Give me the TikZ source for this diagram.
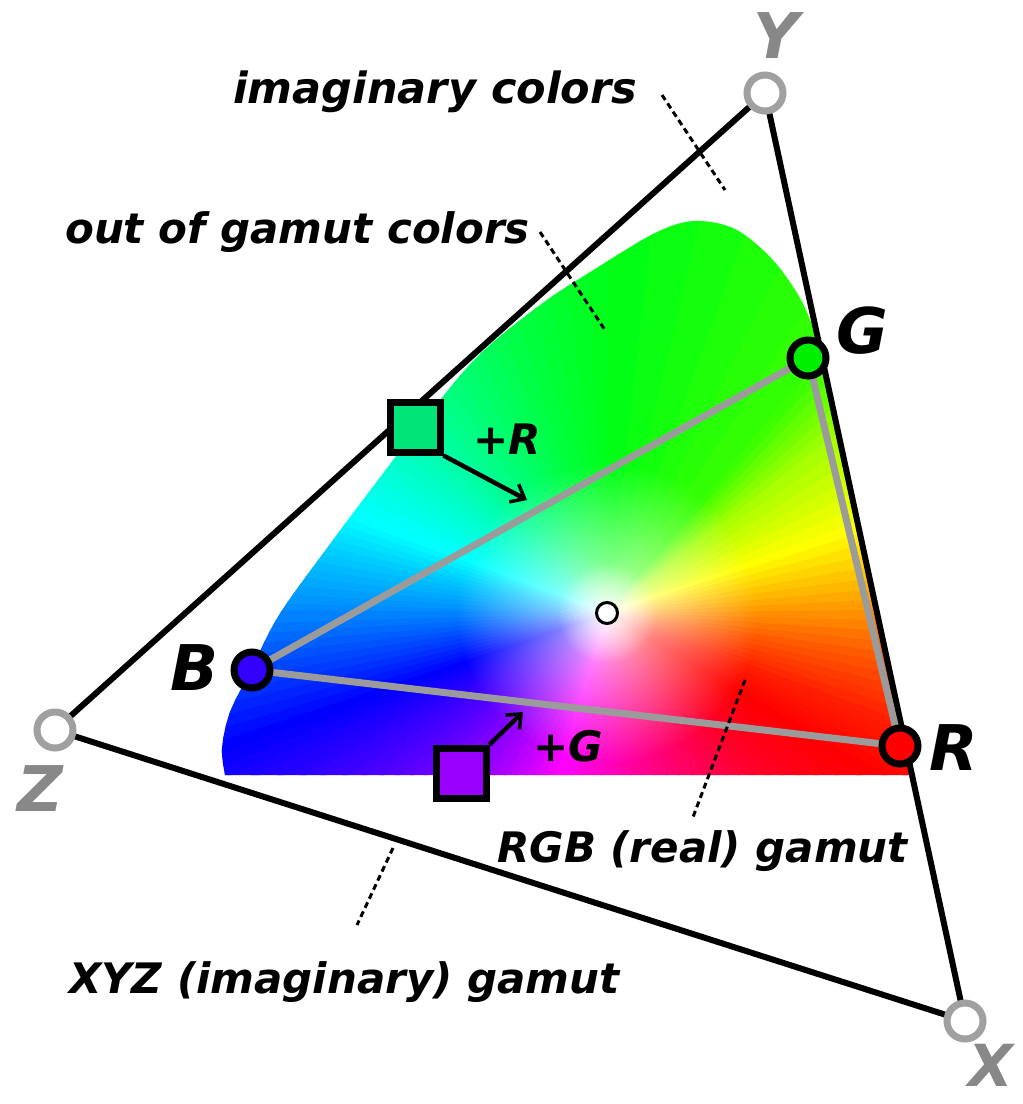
\documentclass[tikz,border=0pt]{standalone}
\usepackage{fontspec}
\setmainfont{DejaVu Sans}
\usetikzlibrary{arrows.meta,fadings}
\definecolor{vgray}{RGB}{160,160,160}
\definecolor{tgray}{RGB}{136,136,136}
\definecolor{lgray}{RGB}{155,155,155}
\definecolor{gfill}{RGB}{0,238,0}
\definecolor{bfill}{RGB}{51,0,255}
\definecolor{rfill}{RGB}{255,0,0}
\definecolor{sqgreen}{RGB}{0,228,120}
\definecolor{sqpurple}{RGB}{153,0,255}
\definecolor{k1}{RGB}{0,140,255}
\definecolor{k2}{RGB}{0,195,255}
\definecolor{k3}{RGB}{0,255,255}
\definecolor{k4}{RGB}{0,255,200}
\definecolor{k5}{RGB}{0,255,130}
\definecolor{k6}{RGB}{0,255,70}
\definecolor{k7}{RGB}{0,255,20}
\definecolor{k8}{RGB}{60,255,0}
\definecolor{k9}{RGB}{170,255,0}
\definecolor{k10}{RGB}{255,255,0}
\definecolor{k11}{RGB}{255,170,0}
\definecolor{k12}{RGB}{255,90,0}
\definecolor{k13}{RGB}{255,30,0}
\definecolor{k14}{RGB}{255,0,0}
\definecolor{k15}{RGB}{255,0,40}
\definecolor{k16}{RGB}{255,0,100}
\definecolor{k17}{RGB}{255,0,180}
\definecolor{k18}{RGB}{255,0,255}
\definecolor{k19}{RGB}{170,0,255}
\definecolor{k20}{RGB}{100,0,255}
\definecolor{k21}{RGB}{50,0,255}
\definecolor{k22}{RGB}{0,0,255}
\definecolor{k23}{RGB}{0,70,255}
\tikzfading[name=wfade, inner color=transparent!0, outer color=transparent!100]
\begin{document}
\begin{tikzpicture}[x=1pt,y=-1pt,
  lbl/.style={font=\fontsize{42}{48}\selectfont\bfseries\itshape, inner sep=0},
  big/.style={font=\fontsize{63}{68}\selectfont\bfseries\itshape, inner sep=0},
  vtx/.style={circle, draw=vgray, fill=white, line width=7pt, minimum size=36pt, inner sep=0},
  prim/.style={circle, draw=black, line width=7pt, minimum size=36pt, inner sep=0},
  sq/.style={rectangle, draw=black, line width=7pt, minimum size=50pt, inner sep=0},
  tri/.style={line width=6pt, black},
  gline/.style={line width=7pt, lgray},
  leader/.style={line width=3pt, dash pattern=on 6pt off 4pt},
  arr/.style={line width=4.5pt, -{Straight Barb[length=12pt,width=20pt,line width=3.5pt]}},
]
\fill[white] (0,0) rectangle (1023,1104);
\useasboundingbox (0,0) rectangle (1023,1104);
\coordinate (W) at (607,613);
% colour region
\begin{scope}
  \clip (225,775) -- (910,775) -- (816,335) -- plot[smooth, tension=0.55] coordinates {(816,335) (800,298) (772,259) (735,229) (694,221) (655,233) (595,269) (540,305) (477,357) (421,424) (378,480) (330,544) (279,615) (250,672) (230,712) (222,748) (225,775)} -- cycle;
  \foreach \a/\b/\ca/\cb in {-180/-170/k1/k2, -170/-160/k2/k3, -160/-145/k3/k4, -145/-128/k4/k5, -128/-110/k5/k6, -110/-90/k6/k7, -90/-50/k7/k8, -50/-38/k8/k9, -38/-20/k9/k10, -20/-5/k10/k11, -5/8/k11/k12, 8/20/k12/k13, 20/30/k13/k14, 30/45/k14/k15, 45/62/k15/k16, 62/85/k16/k17, 85/105/k17/k18, 105/122/k18/k19, 122/138/k19/k20, 138/150/k20/k21, 150/160/k21/k22, 160/170/k22/k23, 170/180/k23/k1}{
    \foreach \t in {0,...,5}{
      \pgfmathsetmacro\angA{\a+(\b-\a)*\t/6}
      \pgfmathsetmacro\angB{\a+(\b-\a)*(\t+1)/6+0.5}
      \pgfmathtruncatemacro\p{100-\t*100/6}
      \fill[fill={\ca!\p!\cb}] (W) -- +(\angA:900) -- +(\angB:900) -- cycle;
    }
  }
  \fill[white, path fading=wfade, fill opacity=0.75] (W) circle (150);
  \fill[white, path fading=wfade, fill opacity=0.9] (W) circle (50);
\end{scope}
% positions
\coordinate (y) at (765,93);
\coordinate (z) at (55,730);
\coordinate (x) at (965,1021);
\coordinate (g) at (808,358);
\coordinate (b) at (252,670);
\coordinate (r) at (900,746);
% triangle and gamut lines
\draw[tri] (z) -- (y);
\draw[tri] (y) -- (x);
\draw[tri] (x) -- (z);
\draw[gline] (b) -- (g);
\draw[gline] (b) -- (r);
\draw[gline] (g) -- (r);
% markers
\node[vtx] (Y) at (y) {};
\node[vtx] (Z) at (z) {};
\node[vtx] (X) at (x) {};
\node[prim, fill=gfill] (G) at (g) {};
\node[prim, fill=bfill] (B) at (b) {};
\node[prim, fill=rfill] (R) at (r) {};
\node[circle, draw=black, fill=white, line width=3pt, minimum size=21pt, inner sep=0] (Wp) at (W) {};
\node[sq, fill=sqgreen] (S1) at (415,427) {};
\node[sq, fill=sqpurple] (S2) at (461,773) {};
% arrows
\coordinate (ra) at (527,500);
\coordinate (ga) at (523,712);
\draw[arr] (S1.south east) -- (ra);
\draw[arr] (S2.north east) -- (ga);
% labels
\node[lbl, anchor=base west, font=\fontsize{43}{48}\selectfont\bfseries\itshape] (imag) at (233,103) {imaginary colors};
\node[lbl, anchor=base west] (oog) at (65,243) {out of gamut colors};
\node[lbl, anchor=base west] (rgb) at (497,862) {RGB (real) gamut};
\node[lbl, anchor=base west] (xyz) at (69,993) {XYZ (imaginary) gamut};
\node[lbl] (pr) at (507,439) {+R};
\node[lbl] (pg) at (568,746) {+G};
\node[big] (lG) at (862,331) {G};
\node[big] (lB) at (195,668) {B};
\node[big] (lR) at (954,748) {R};
\node[big, text=tgray] (lY) at (776,36) {Y};
\node[big, text=tgray] (lZ) at (40,789) {Z};
\node[big, text=tgray, font=\fontsize{58}{62}\selectfont\bfseries\itshape] (lX) at (991,1065) {X};
% leaders
\coordinate (l1a) at (662,95);  \coordinate (l1b) at (725,190);
\coordinate (l2a) at (540,232); \coordinate (l2b) at (605,330);
\coordinate (l3a) at (745,680); \coordinate (l3b) at (693,817);
\coordinate (l4a) at (393,848); \coordinate (l4b) at (357,925);
\draw[leader] (l1a) -- (l1b);
\draw[leader] (l2a) -- (l2b);
\draw[leader] (l3a) -- (l3b);
\draw[leader] (l4a) -- (l4b);
\end{tikzpicture}
\end{document}
